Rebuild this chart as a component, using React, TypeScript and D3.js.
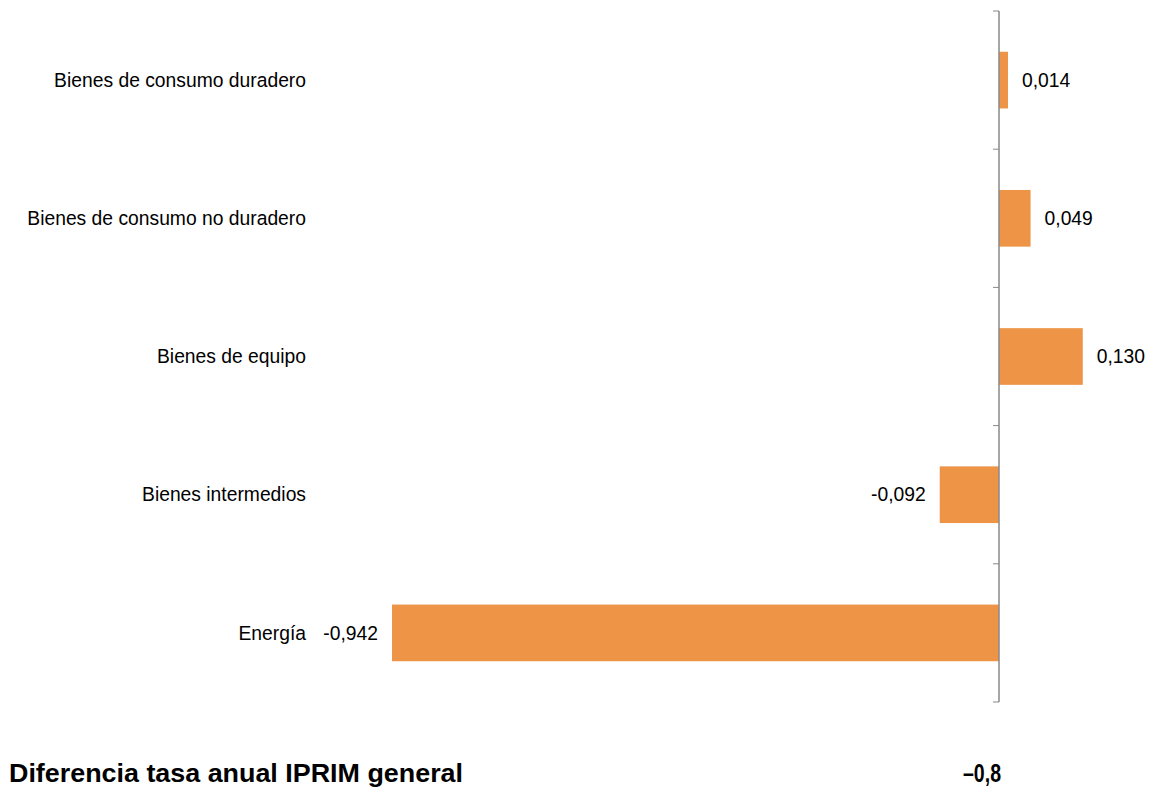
import React from "react";
import * as d3 from "d3";

const categories = [
  "Bienes de consumo duradero",
  "Bienes de consumo no duradero",
  "Bienes de equipo",
  "Bienes intermedios",
  "Energía",
];
const values = [0.014, 0.049, 0.13, -0.092, -0.942];
const valueLabels = ["0,014", "0,049", "0,130", "-0,092", "-0,942"];
const footerTitle = "Diferencia tasa anual IPRIM general";
const footerValue = "–0,8";

const W = 1151;
const H = 787;

export default function App() {
  const x = d3.scaleLinear().domain([-0.942, 0]).range([392, 999]);
  const y = d3.scaleBand<string>().domain(categories).range([11, 702]).paddingInner(0.59).paddingOuter(0.295);
  const tickYs = d3.range(categories.length + 1).map((i) => 11 + i * ((702 - 11) / categories.length));
  const font = "'Liberation Sans', Arial, sans-serif";
  const fs = 19.3;
  return (
    <svg width={W} height={H} style={{ position: "absolute", left: 0, top: 0 }}>
      <rect width={W} height={H} fill="#fff" />
      {categories.map((c, i) => {
        const v = values[i];
        const x0 = Math.min(x(0), x(v));
        const x1 = Math.max(x(0), x(v));
        const yy = y(c)!;
        const cy = yy + y.bandwidth() / 2;
        return (
          <g key={c}>
            <rect x={x0} y={yy} width={x1 - x0} height={y.bandwidth()} fill="#ED9447" />
            <text x={306} y={cy} dy="0.35em" textAnchor="end" fontFamily={font} fontSize={fs} fill="#000">
              {c}
            </text>
            <text
              x={v >= 0 ? x1 + 14 : x0 - 14}
              y={cy}
              dy="0.35em"
              textAnchor={v >= 0 ? "start" : "end"}
              fontFamily={font}
              fontSize={fs}
              fill="#000"
            >
              {valueLabels[i]}
            </text>
          </g>
        );
      })}
      <line x1={x(0)} x2={x(0)} y1={11} y2={702} stroke="#888" strokeWidth={1.5} />
      {tickYs.map((t, i) => (
        <line key={i} x1={x(0) - 6} x2={x(0)} y1={t} y2={t} stroke="#888" strokeWidth={1} />
      ))}
      <text
        x={9}
        y={782}
        fontFamily={font}
        fontWeight="bold"
        fontSize={25.5}
        textLength={454}
        lengthAdjust="spacingAndGlyphs"
        fill="#000"
      >
        {footerTitle}
      </text>
      <text
        x={963}
        y={782}
        fontFamily={font}
        fontWeight="bold"
        fontSize={25.5}
        textLength={38}
        lengthAdjust="spacingAndGlyphs"
        fill="#000"
      >
        {footerValue}
      </text>
    </svg>
  );
}
